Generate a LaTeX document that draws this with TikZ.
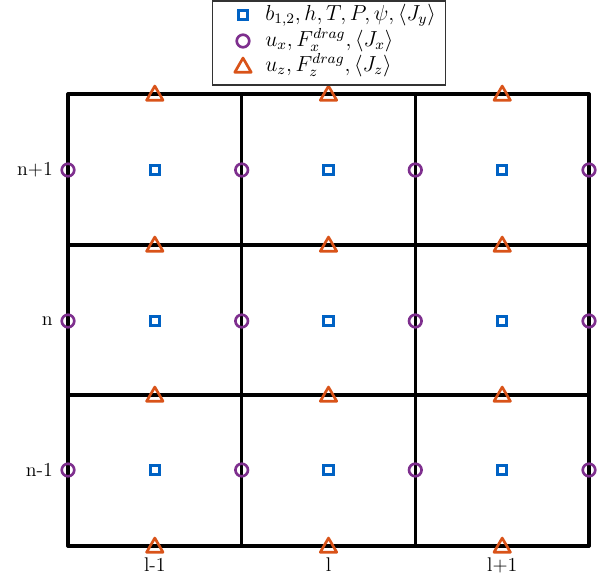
\documentclass[tikz,border=0pt]{standalone}
\usepackage{graphicx}
\usetikzlibrary{shapes.geometric}
\definecolor{sqblue}{RGB}{0,98,196}
\definecolor{cpurple}{RGB}{126,47,142}
\definecolor{torange}{RGB}{217,83,25}
\newcommand{\labtxt}[1]{\scalebox{1.35}{\fontsize{11}{13}\selectfont #1}}
\newcommand{\legtext}[1]{\scalebox{1.36}{\fontsize{12}{14}\selectfont #1}}
\begin{document}
\begin{tikzpicture}[x=0.75pt,y=-0.75pt,
  gridline/.style={line width=2.5pt,line cap=round,line join=round},
  sqmark/.style={draw=sqblue,line width=2.4pt,rectangle,minimum size=7pt,inner sep=0pt},
  cimark/.style={draw=cpurple,line width=2pt,circle,minimum size=9.4pt,inner sep=0pt},
  trmark/.style={draw=torange,line width=2pt,regular polygon,regular polygon sides=3,minimum size=14.2pt,inner sep=0pt,line join=round},
  lab/.style={inner sep=0pt},
  legtxt/.style={anchor=west,inner sep=0pt}]
\useasboundingbox (0,0) rectangle (604,579);
% grid
\foreach \i/\x in {0/68,1/241.7,2/415.3,3/589}{
  \coordinate (vt\i) at (\x,94);
  \coordinate (vb\i) at (\x,546);
}
\foreach \j/\y in {0/94,1/245,2/395,3/546}{
  \coordinate (hl\j) at (68,\y);
  \coordinate (hr\j) at (589,\y);
}
\foreach \i in {0,1,2,3}{\draw[gridline] (vt\i) -- (vb\i);}
\foreach \j in {0,1,2,3}{\draw[gridline] (hl\j) -- (hr\j);}
% markers
\foreach \c/\x in {0/154.8,1/328.5,2/502.2}{
  \foreach \r/\y in {0/170,1/321,2/470}{
    \node[sqmark] (s\c\r) at (\x,\y) {};
  }
  \foreach \j/\y in {0/94,1/245,2/395,3/546}{
    \node[trmark] (t\c\j) at (\x,\y+1.5) {};
  }
}
\foreach \i/\x in {0/68,1/241.7,2/415.3,3/589}{
  \foreach \r/\y in {0/170,1/321,2/470}{
    \node[cimark] (c\i\r) at (\x,\y) {};
  }
}
% axis labels
\node[lab,anchor=east] (ln2) at (53,170) {\labtxt{n+1}};
\node[lab,anchor=east] (ln1) at (53,321) {\labtxt{n}};
\node[lab,anchor=east] (ln0) at (53,470) {\labtxt{n-1}};
\node[lab] (ll0) at (154.8,565) {\labtxt{l-1}};
\node[lab] (ll1) at (328.5,565) {\labtxt{l}};
\node[lab] (ll2) at (502.2,565) {\labtxt{l+1}};
% legend
\draw[draw=black!80,line width=1pt,fill=white] (212.5,1) rectangle (445.5,85);
\node[sqmark] (lgs) at (243,15) {};
\node[cimark] (lgc) at (243,41) {};
\node[trmark] (lgt) at (243,67.5) {};
\node[legtxt] (lgs-t) at (265,15) {\legtext{$b_{1,2}, h, T, P, \psi, \langle J_y\rangle$}};
\node[legtxt] (lgc-t) at (265,40) {\legtext{$u_x, F_x^{drag}, \langle J_x\rangle$}};
\node[legtxt] (lgt-t) at (265,65) {\legtext{$u_z, F_z^{drag}, \langle J_z\rangle$}};
\end{tikzpicture}
\end{document}
